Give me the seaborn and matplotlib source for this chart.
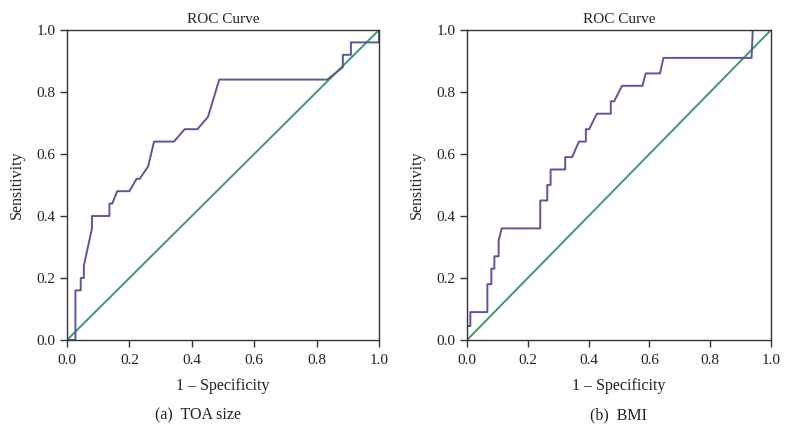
import matplotlib
matplotlib.use("Agg")
import matplotlib.pyplot as plt
import seaborn as sns
import pandas as pd

# TOA size ROC curve (1 - specificity, sensitivity)
toa_fpr = [0.0, 0.027, 0.027, 0.044, 0.044, 0.054, 0.054, 0.08, 0.08, 0.136, 0.136, 0.145,
           0.161, 0.20, 0.223, 0.233, 0.26, 0.279, 0.343, 0.377, 0.418, 0.452, 0.488,
           0.834, 0.884, 0.884, 0.91, 0.91, 1.0, 1.0]
toa_tpr = [0.0, 0.0, 0.16, 0.16, 0.20, 0.20, 0.24, 0.36, 0.40, 0.40, 0.44, 0.44,
           0.48, 0.48, 0.52, 0.52, 0.56, 0.64, 0.64, 0.68, 0.68, 0.72, 0.84,
           0.84, 0.88, 0.92, 0.92, 0.96, 0.96, 1.0]

# BMI ROC curve
bmi_fpr = [0.0, 0.0, 0.011, 0.011, 0.067, 0.067, 0.08, 0.08, 0.09, 0.09, 0.104, 0.104, 0.114,
           0.241, 0.241, 0.264, 0.264, 0.275, 0.275, 0.323, 0.323, 0.346, 0.368,
           0.391, 0.391, 0.402, 0.427, 0.473, 0.473, 0.484, 0.51, 0.577, 0.588,
           0.635, 0.646, 0.936, 0.94, 1.0]
bmi_tpr = [0.0, 0.045, 0.045, 0.09, 0.09, 0.18, 0.18, 0.23, 0.23, 0.27, 0.27, 0.32, 0.36,
           0.36, 0.45, 0.45, 0.50, 0.50, 0.55, 0.55, 0.59, 0.59, 0.64,
           0.64, 0.68, 0.68, 0.73, 0.73, 0.77, 0.77, 0.82, 0.82, 0.86,
           0.86, 0.91, 0.91, 1.0, 1.0]

ref_line = [0.0, 1.0]
ticks = [0.0, 0.2, 0.4, 0.6, 0.8, 1.0]
tick_labels = ["0.0", "0.2", "0.4", "0.6", "0.8", "1.0"]
captions = ["(a)  TOA size", "(b)  BMI"]

sns.set_style("ticks")
plt.rcParams["font.family"] = ["Liberation Serif", "DejaVu Serif"]

curve_color = "#57589a"
ref_color = "#3d9a6b"
spine_color = "#333333"

fig = plt.figure(figsize=(7.92, 4.48), dpi=100)
ax1 = fig.add_axes([67 / 792, 108 / 448, 312 / 792, 310 / 448])
ax2 = fig.add_axes([467 / 792, 108 / 448, 304 / 792, 310 / 448])

for ax, fpr, tpr, cap, cx in [(ax1, toa_fpr, toa_tpr, captions[0], 198 / 792),
                              (ax2, bmi_fpr, bmi_tpr, captions[1], 618 / 792)]:
    df = pd.DataFrame({"fpr": fpr, "tpr": tpr})
    sns.lineplot(x=ref_line, y=ref_line, ax=ax, color=ref_color, lw=1.4,
                 sort=False, estimator=None)
    sns.lineplot(data=df, x="fpr", y="tpr", ax=ax, color=curve_color, lw=1.4,
                 sort=False, estimator=None)
    ax.set_xlim(0, 1)
    ax.set_ylim(0, 1)
    ax.set_xticks(ticks)
    ax.set_xticklabels(tick_labels)
    ax.set_yticks(ticks)
    ax.set_yticklabels(tick_labels)
    ax.tick_params(direction="out", length=5, width=1, colors=spine_color,
                   labelsize=11, labelcolor="#222222")
    ax.tick_params(axis="x", pad=5)
    for s in ax.spines.values():
        s.set_visible(True)
        s.set_color(spine_color)
        s.set_linewidth(1.0)
    ax.set_title("ROC Curve", fontsize=11, pad=5, color="#222222")
    ax.set_xlabel("1 \u2013 Specificity", fontsize=11.5, labelpad=8, color="#222222")
    ax.set_ylabel("Sensitivity", fontsize=11.5, labelpad=8, color="#222222")
    fig.text(cx, 1 - 415 / 448, cap, ha="center", va="center", fontsize=11.5,
             color="#222222")

fig.savefig("out.png", dpi=100)
